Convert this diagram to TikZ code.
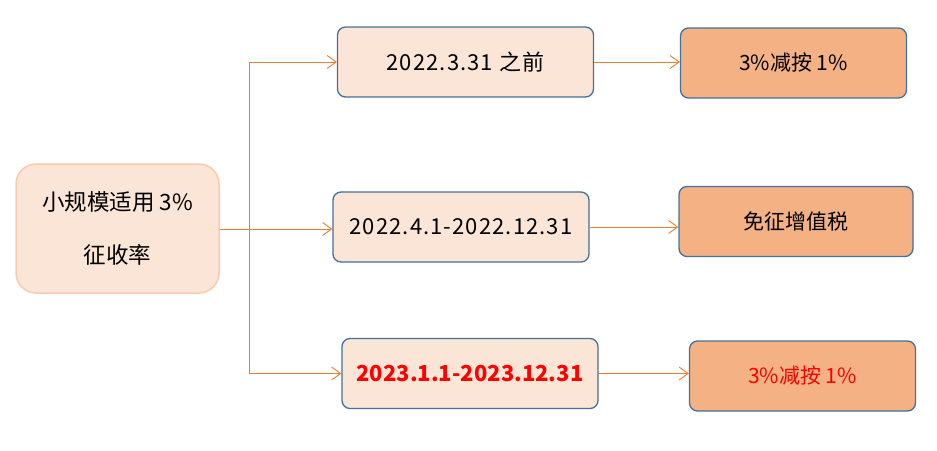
\documentclass[tikz,border=0pt]{standalone}
\usepackage{fontspec}
\setmainfont{Noto Sans CJK SC}
\newfontfamily\datefont[LetterSpace=5]{Noto Sans CJK SC}
\usepackage{tikz}
\usetikzlibrary{arrows.meta, positioning, calc}

\definecolor{peach}{HTML}{FBE5D6}
\definecolor{peachline}{HTML}{F8CBAD}
\definecolor{salmon}{HTML}{F4B183}
\definecolor{steel}{HTML}{41719C}
\definecolor{linkorange}{HTML}{ED7D31}

\tikzstyle{startbox} = [
  rectangle, rounded corners=20pt, draw=peachline, fill=peach, line width=1.5pt,
  text centered, align=center, minimum width=203pt, minimum height=129pt,
  font=\fontsize{22.5}{53}\selectfont
]
\tikzstyle{datebox} = [
  rectangle, rounded corners=8pt, draw=steel, fill=peach, line width=1.3pt,
  text centered, minimum width=256pt, minimum height=70pt,
  font=\fontsize{22}{25}\selectfont\datefont
]
\tikzstyle{ratebox} = [
  rectangle, rounded corners=8pt, draw=steel, fill=salmon, line width=1.3pt,
  text centered, minimum width=226pt, minimum height=70pt,
  font=\fontsize{21}{25}\selectfont
]
\tikzstyle{arrow} = [-{Straight Barb[length=9pt, width=13pt]}, linkorange, line width=0.9pt]

\begin{document}
\begin{tikzpicture}[x=1pt, y=-1pt]

  \useasboundingbox (0, 0) rectangle (937, 450);

  \node[startbox] (scale) at (117.5, 228.5) {小规模适用 3\%\\征收率};

  \node[datebox] (early) at (465.5, 62) {2022.3.31 之前};
  \node[datebox] (mid) at (461, 227) {2022.4.1-2022.12.31};
  \node[datebox, text=red, font=\fontsize{22}{25}\selectfont\bfseries] (late) at (470, 373.5) {2023.1.1-2023.12.31};

  \node[ratebox] (cutone) at (793.5, 63) {3\%减按 1\%};
  \node[ratebox, minimum width=234pt] (exempt) at (796, 221.5) {免征增值税};
  \node[ratebox, text=red] (cuttwo) at (802.5, 376) {3\%减按 1\%};

  \coordinate (split) at (249, 229);

  \draw[linkorange, line width=0.9pt] (scale.east |- split) -- (split);
  \draw[arrow] (split) |- (early.west);
  \draw[arrow] (split) -- (split -| mid.west);
  \draw[arrow] (split) |- (late.west);

  \draw[arrow] (early.east) -- (early.east -| cutone.west);
  \draw[arrow] (mid.east) -- (mid.east -| exempt.west);
  \draw[arrow] (late.east) -- (late.east -| cuttwo.west);

\end{tikzpicture}
\end{document}
